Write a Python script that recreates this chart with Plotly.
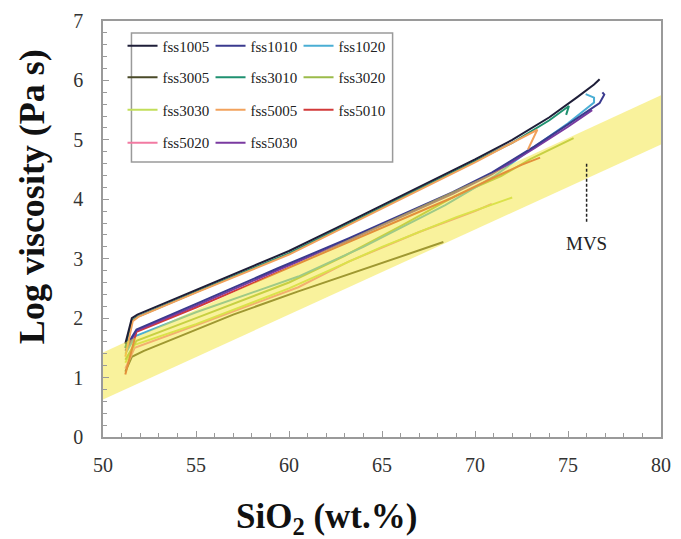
import plotly.graph_objects as go

# ---------------- data ----------------
fss1005_x = [51.2, 51.55, 51.85, 53.0, 55.0, 57.5, 60.0, 62.5, 65.0, 67.5, 70.0, 72.0, 74.0, 75.5, 76.4, 76.7]
fss1005_y = [1.57, 2.00, 2.06, 2.21, 2.48, 2.81, 3.13, 3.51, 3.90, 4.28, 4.67, 5.00, 5.38, 5.72, 5.93, 6.02]

fss1010_x = [51.2, 51.8, 55.0, 59.4, 63.2, 66.0, 68.8, 70.9, 73.2, 75.0, 76.7, 76.95, 76.85]
fss1010_y = [1.50, 1.81, 2.24, 2.84, 3.34, 3.73, 4.12, 4.45, 4.89, 5.26, 5.62, 5.76, 5.80]

fss1020_x = [51.2, 51.75, 55.0, 60.5, 64.0, 68.4, 71.0, 73.0, 75.0, 76.4, 76.4, 75.95]
fss1020_y = [1.40, 1.70, 2.10, 2.70, 3.20, 3.90, 4.38, 4.84, 5.28, 5.63, 5.71, 5.77]

fss3005_x = [51.2, 51.55, 52.2, 55.0, 57.0, 60.5, 63.0, 65.5, 68.3]
fss3005_y = [1.10, 1.35, 1.45, 1.80, 2.06, 2.45, 2.72, 2.98, 3.28]

fss3010_x = [51.2, 51.55, 51.85, 55.0, 60.0, 65.0, 70.0, 72.0, 74.0, 75.05, 74.9]
fss3010_y = [1.50, 1.96, 2.02, 2.44, 3.09, 3.86, 4.63, 4.95, 5.33, 5.57, 5.42]

fss3020_x = [51.2, 51.8, 55.0, 60.0, 63.0, 66.0, 68.9, 71.4, 73.0, 75.3]
fss3020_y = [1.30, 1.62, 2.00, 2.60, 3.05, 3.55, 4.05, 4.39, 4.68, 5.03]

fss3030_x = [51.2, 51.7, 55.0, 60.0, 65.0, 69.0, 72.0]
fss3030_y = [1.25, 1.55, 1.90, 2.50, 3.20, 3.70, 4.03]

fss5005_x = [51.2, 51.6, 51.9, 55.0, 60.0, 65.0, 70.0, 72.0, 73.35, 72.85]
fss5005_y = [1.35, 1.95, 2.02, 2.43, 3.07, 3.85, 4.62, 4.95, 5.17, 4.84]

fss5010_x = [51.2, 51.8, 55.0, 59.4, 63.2, 66.0, 68.8, 70.9, 72.5, 73.5]
fss5010_y = [1.05, 1.77, 2.18, 2.77, 3.27, 3.65, 4.03, 4.35, 4.58, 4.70]

fss5020_x = [51.2, 51.7, 55.0, 60.5, 63.2, 67.0, 70.0, 70.9]
fss5020_y = [1.15, 1.50, 1.88, 2.52, 2.95, 3.45, 3.80, 3.92]

fss5030_x = [51.2, 51.8, 55.0, 59.4, 63.2, 66.0, 68.8, 70.9, 73.2, 75.0, 76.3]
fss5030_y = [1.45, 1.79, 2.21, 2.81, 3.31, 3.70, 4.09, 4.42, 4.86, 5.22, 5.50]

# MVS band (lower / upper edge)
mvs_x = [50, 80]
mvs_lower = [0.63, 4.92]
mvs_upper = [1.42, 5.75]

# MVS label marker
mvs_label_x = 76.0
mvs_label_y = 3.25
mvs_dash_y = [3.62, 4.62]

x_ticks = [50, 55, 60, 65, 70, 75, 80]
y_ticks = [0, 1, 2, 3, 4, 5, 6, 7]

# ---------------- styling ----------------
SERIF = "Liberation Serif, Times New Roman, serif"

series = {
    "fss1005": (fss1005_x, fss1005_y, "#1e1e38", "legend", 0),
    "fss1010": (fss1010_x, fss1010_y, "#3a3a8e", "legend", 1),
    "fss1020": (fss1020_x, fss1020_y, "#4aaed4", "legend", 2),
    "fss3005": (fss3005_x, fss3005_y, "#4a4a28", "legend2", 0),
    "fss3010": (fss3010_x, fss3010_y, "#1f9170", "legend2", 1),
    "fss3020": (fss3020_x, fss3020_y, "#9bbb4a", "legend2", 2),
    "fss3030": (fss3030_x, fss3030_y, "#c2de5a", "legend3", 0),
    "fss5005": (fss5005_x, fss5005_y, "#f2a25c", "legend3", 1),
    "fss5010": (fss5010_x, fss5010_y, "#d23a3a", "legend3", 2),
    "fss5020": (fss5020_x, fss5020_y, "#f27aa2", "legend4", 0),
    "fss5030": (fss5030_x, fss5030_y, "#7a3aa0", "legend4", 1),
}

draw_order = ["fss3005", "fss5020", "fss3030", "fss3020", "fss1020", "fss5010",
              "fss5030", "fss1010", "fss3010", "fss5005", "fss1005"]

fig = go.Figure()
for name in draw_order:
    xs, ys, col, lg, rank = series[name]
    fig.add_trace(go.Scatter(
        x=xs, y=ys, mode="lines", name=name,
        line=dict(color=col, width=2),
        legend=lg, legendrank=rank + 1,
    ))

# translucent MVS band drawn over the curves
fig.add_trace(go.Scatter(
    x=mvs_x + mvs_x[::-1] + [mvs_x[0]],
    y=mvs_lower + mvs_upper[::-1] + [mvs_lower[0]],
    mode="lines", fill="toself", fillcolor="rgba(244,230,58,0.50)",
    line=dict(width=0), showlegend=False, hoverinfo="skip",
))

# dashed marker line for MVS
fig.add_trace(go.Scatter(
    x=[mvs_label_x, mvs_label_x], y=mvs_dash_y, mode="lines",
    line=dict(color="#222222", width=1.5, dash="3px,2px"),
    showlegend=False, hoverinfo="skip",
))

legend_common = dict(
    orientation="h", xanchor="left", yanchor="middle",
    bgcolor="rgba(0,0,0,0)", borderwidth=0,
    font=dict(family=SERIF, size=15, color="#222222"),
    entrywidth=43, entrywidthmode="pixels", itemwidth=30,
)
x_leg = 0.035
fig.update_layout(
    legend=dict(x=x_leg, y=0.940, **legend_common),
    legend2=dict(x=x_leg, y=0.864, **legend_common),
    legend3=dict(x=x_leg, y=0.786, **legend_common),
    legend4=dict(x=x_leg, y=0.707, **legend_common),
)

# legend frame
fig.add_shape(type="rect", xref="paper", yref="paper",
              x0=0.051, x1=0.519, y0=0.661, y1=0.971,
              line=dict(color="#9a9a9a", width=1.5), fillcolor="rgba(0,0,0,0)")

fig.update_layout(
    width=681, height=539,
    margin=dict(l=103, r=10, t=18, b=102),
    paper_bgcolor="white", plot_bgcolor="white",
    showlegend=True,
    font=dict(family=SERIF, color="#333333"),
)

fig.update_xaxes(
    range=[50, 80], tickvals=x_ticks, ticktext=[str(v) for v in x_ticks],
    ticks="inside", ticklen=6, tickcolor="#999999", tickwidth=1,
    minor=dict(dtick=1, ticks="inside", ticklen=4, tickcolor="#999999"),
    showline=True, linecolor="#9a9a9a", linewidth=1.5, mirror=True,
    showgrid=False, zeroline=False,
    tickfont=dict(family=SERIF, size=20, color="#333333"),
    ticklabelstandoff=9,
)
fig.update_yaxes(
    range=[0, 7], tickvals=y_ticks, ticktext=[str(v) for v in y_ticks],
    ticks="inside", ticklen=6, tickcolor="#999999", tickwidth=1,
    minor=dict(dtick=0.2, ticks="inside", ticklen=4, tickcolor="#999999"),
    showline=True, linecolor="#9a9a9a", linewidth=1.5, mirror=True,
    showgrid=False, zeroline=False,
    tickfont=dict(family=SERIF, size=20, color="#333333"),
    ticklabelstandoff=14,
)

fig.add_annotation(
    text="<b>SiO<sub>2</sub> (wt.%)</b>", xref="paper", yref="paper",
    x=0.40, y=-0.197, showarrow=False, xanchor="center", yanchor="middle",
    font=dict(family=SERIF, size=35, color="#111111"),
)
fig.add_annotation(
    text="<b>Log viscosity (Pa s)</b>", xref="paper", yref="paper",
    x=-0.128, y=0.578, showarrow=False, textangle=-90,
    xanchor="center", yanchor="middle",
    font=dict(family=SERIF, size=36, color="#111111"),
)
fig.add_annotation(
    text="MVS", x=mvs_label_x, y=mvs_label_y, xref="x", yref="y",
    showarrow=False, xanchor="center", yanchor="middle",
    font=dict(family=SERIF, size=19, color="#222222"),
)

fig.write_html(
    "out.html",
    config={"displayModeBar": False},
    post_script="document.body.style.margin='0';document.body.style.padding='0';document.body.style.overflow='hidden';",
)
